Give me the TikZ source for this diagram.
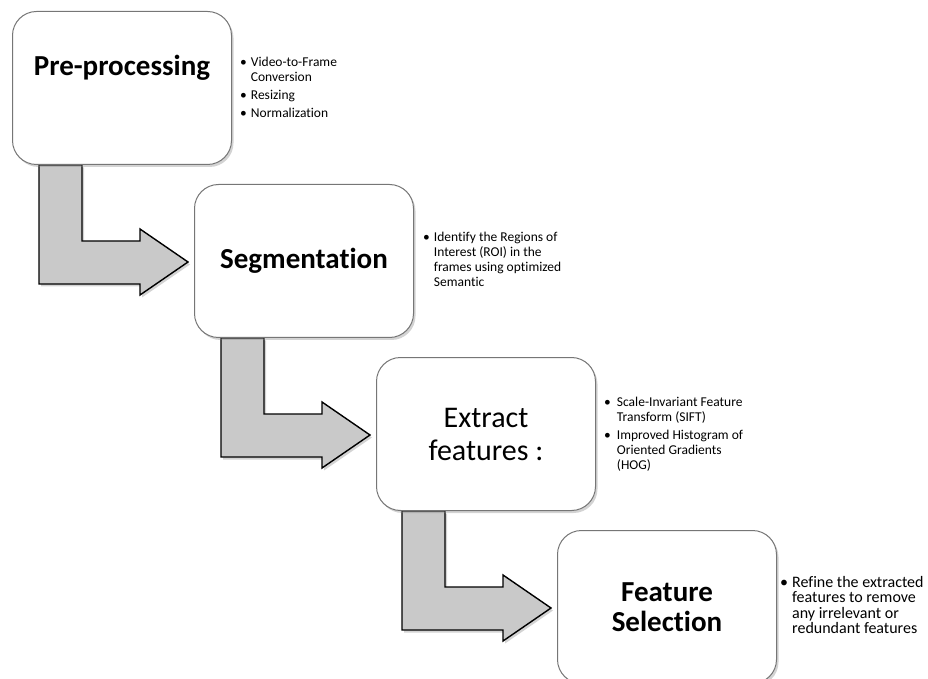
\documentclass[tikz,border=0pt]{standalone}
\usepackage{fontspec}
\setmainfont{Carlito}[Ligatures={NoCommon}]
\usetikzlibrary{positioning,calc,shadows,backgrounds}
\definecolor{arrowgray}{RGB}{201,201,201}
\definecolor{boxline}{RGB}{118,118,118}

\begin{document}
\begin{tikzpicture}[x=1pt,y=1pt]

\tikzstyle{stage}=[draw=boxline, line width=1pt, fill=white, rounded corners=24pt, minimum width=219pt, minimum height=153pt, inner sep=0pt, align=center, drop shadow={shadow xshift=2pt, shadow yshift=-2.5pt, opacity=0.35}]
\tikzstyle{flowarrow}=[draw=black, line width=1.4pt, fill=arrowgray, drop shadow={shadow xshift=2pt, shadow yshift=-2.5pt, opacity=0.35}]
\tikzstyle{title}=[font=\fontsize{29}{30}\selectfont\bfseries]
\tikzstyle{notes}=[inner sep=0pt, align=left, font=\fontsize{13.5}{15}\selectfont]

\useasboundingbox (0,0) rectangle (928,678);

\node[stage, title, anchor=north west] (pre) at (12,667) {\raisebox{12.5pt}[0pt][0pt]{Pre-processing}};
\node[stage, title, below right=19pt and -38pt of pre.south east] (seg) {Segmentation};
\node[stage, font=\fontsize{30}{33}\selectfont, below right=19pt and -38pt of seg.south east] (ext) {Extract\\features :};
\node[stage, title, below right=19pt and -39pt of ext.south east] (sel) {Feature\\Selection};

\node[notes, below right=44.5pt and 8pt of pre.north east] (prenotes) {%
  \begin{tabular}{@{}l@{\hspace{4pt}}l@{}}
  \textbullet & Video-to-Frame\\
   & Conversion\\[3pt]
  \textbullet & Resizing\\[3pt]
  \textbullet & Normalization
  \end{tabular}};
\node[notes, below right=46.5pt and 9pt of seg.north east] (segnotes) {%
  \begin{tabular}{@{}l@{\hspace{4pt}}l@{}}
  \textbullet & Identify the Regions of\\
   & Interest (ROI) in the\\
   & frames using optimized\\
   & Semantic
  \end{tabular}};
\node[notes, below right=39pt and 8pt of ext.north east] (extnotes) {%
  \begin{tabular}{@{}l@{\hspace{6pt}}l@{}}
  \textbullet & Scale-Invariant Feature\\
   & Transform (SIFT)\\[3pt]
  \textbullet & Improved Histogram of\\
   & Oriented Gradients\\
   & (HOG)
  \end{tabular}};
\node[notes, font=\fontsize{16}{14.7}\selectfont, below right=46pt and 3pt of sel.north east] (selnotes) {%
  \begin{tabular}{@{}l@{\hspace{4pt}}l@{}}
  \textbullet & Refine the extracted\\
   & features to remove\\
   & any irrelevant or\\
   & redundant features
  \end{tabular}};

% bent arrows between the stages
\begin{scope}[on background layer]
\foreach \from/\to in {pre/seg, seg/ext, ext/sel}
  \draw[flowarrow] let \p1=(\to.north west), \p2=(\from.south) in
    (\x1-155pt,\y2) -- (\x1-155pt,\y1-100pt) -- (\x1-54pt,\y1-100pt) -- (\x1-54pt,\y1-111pt)
    -- (\x1-6pt,\y1-78pt) -- (\x1-54pt,\y1-45pt) -- (\x1-54pt,\y1-57pt) -- (\x1-112pt,\y1-57pt)
    -- (\x1-112pt,\y2) -- cycle;
\end{scope}

\end{tikzpicture}
\end{document}
